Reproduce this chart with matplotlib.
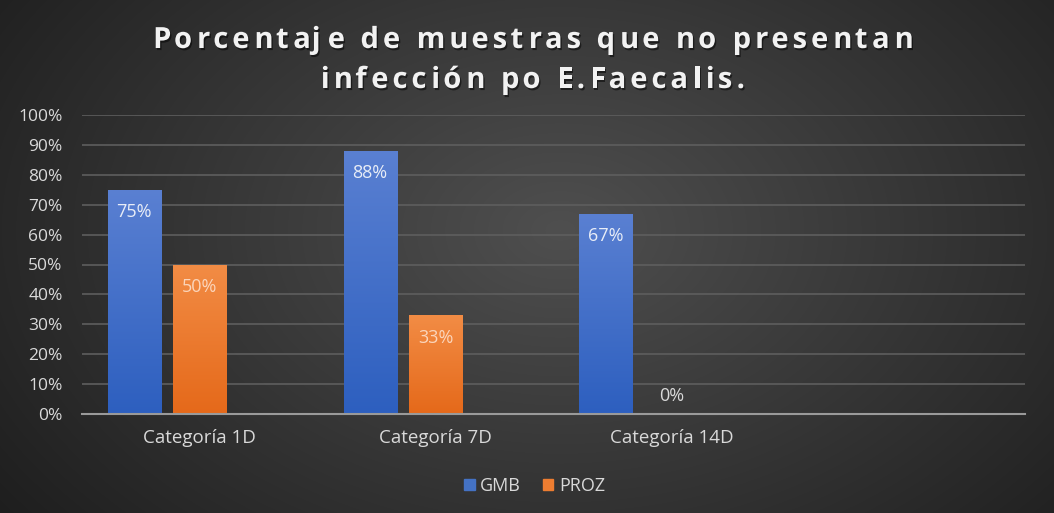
import numpy as np
import matplotlib
matplotlib.use("Agg")
import matplotlib.pyplot as plt
import matplotlib.patheffects as pe
from matplotlib.colors import LinearSegmentedColormap
from matplotlib.font_manager import FontProperties, findfont
from matplotlib.ft2font import FT2Font

# chart data
categories = ["Categoría 1D", "Categoría 7D", "Categoría 14D", ""]
gmb = [0.75, 0.88, 0.67, None]
proz = [0.50, 0.33, 0.00, None]
labels_gmb = ["75%", "88%", "67%", ""]
labels_proz = ["50%", "33%", "0%", ""]
series_names = ["GMB", "PROZ"]
title_lines = ["Porcentaje de muestras que no presentan", "infección po E.Faecalis."]
yticks = np.arange(0, 1.01, 0.1)

plt.rcParams["font.family"] = ["Open Sans", "DejaVu Sans"]

W, H = 1054, 513
fig = plt.figure(figsize=(W / 100, H / 100), dpi=100)

# radial gradient background
bg = fig.add_axes([0, 0, 1, 1], zorder=-10)
yy, xx = np.mgrid[0:H, 0:W]
r = np.sqrt(((xx - 560) / 620.0) ** 2 + ((yy - 230) / 420.0) ** 2)
shade = np.clip(0.31 - 0.17 * r, 0.12, 0.31)
bg.imshow(np.dstack([shade] * 3), aspect="auto", extent=[0, 1, 0, 1])
bg.axis("off")

ax = fig.add_axes([82 / W, 99 / H, 943 / W, 299 / H])
ax.set_facecolor("none")

x = np.arange(len(categories))
w = 0.225
off = 0.278

blue_cm = LinearSegmentedColormap.from_list("b", ["#2d5fbf", "#5a80d2"])
orange_cm = LinearSegmentedColormap.from_list("o", ["#e5691a", "#f28c45"])
grad = np.linspace(0, 1, 256).reshape(-1, 1)


def draw_bars(vals, dx, cmap, base, labs, lab_color):
    for i, v in enumerate(vals):
        if v is None:
            continue
        xc = x[i] + dx
        bar = ax.bar(xc, v, width=w, color=base, zorder=2)[0]
        if v > 0:
            im = ax.imshow(grad, cmap=cmap, origin="lower", aspect="auto",
                           extent=[xc - w / 2, xc + w / 2, 0, v], zorder=3)
            im.set_clip_path(bar)
            ax.text(xc, v - 0.075, labs[i], ha="center", va="center",
                    color=lab_color, fontsize=13, zorder=4)
        else:
            ax.text(xc, v + 0.06, labs[i], ha="center", va="center",
                    color="#d9d9d9", fontsize=13, zorder=4)


draw_bars(gmb, -off, blue_cm, "#4472c4", labels_gmb, "#e8edf7")
draw_bars(proz, 0, orange_cm, "#ed7d31", labels_proz, "#fbd5bb")
ax.set_xlim(-0.5, len(categories) - 0.5)
ax.set_ylim(0, 1)

ax.set_yticks(yticks)
ax.set_yticklabels([f"{int(round(t * 100))}%" for t in yticks])
ax.set_xticks(x)
ax.set_xticklabels(categories)
ax.tick_params(axis="y", length=0, pad=14, colors="#d9d9d9", labelsize=12.5)
ax.tick_params(axis="x", length=0, pad=11, colors="#d9d9d9", labelsize=13.5)
ax.grid(axis="y", color="#5e5e5e", linewidth=1.2, zorder=0)
ax.set_axisbelow(True)
for s in ["top", "right", "left"]:
    ax.spines[s].set_visible(False)
ax.spines["bottom"].set_color("#9a9a9a")
ax.spines["bottom"].set_linewidth(1.5)
ax.spines["bottom"].set_zorder(5)

# title with wide letter spacing, placed glyph by glyph
tsize = 21
tprop = FontProperties(family="Open Sans", weight="bold", size=tsize)
ft = FT2Font(findfont(tprop))
ft.set_size(tsize, 100)
spacing = 4.0
shadow = [pe.withSimplePatchShadow(offset=(1, -1.5), shadow_rgbFace="black", alpha=0.5)]


def spaced_line(s, xc, baseline):
    glyphs = [ft.load_char(ord(c)) for c in s]
    advs = [g.linearHoriAdvance / 65536 for g in glyphs]
    total = sum(advs) + spacing * (len(s) - 1)
    xp = xc - total / 2
    for c, g, a in zip(s, glyphs, advs):
        if c != " ":
            fig.text((xp + g.horiBearingX / 64) / W, 1 - baseline / H, c,
                     ha="left", va="baseline", color="#f2f2f2",
                     fontproperties=tprop, path_effects=shadow)
        xp += a + spacing


spaced_line(title_lines[0], 531, 48)
spaced_line(title_lines[1], 531, 88)

handles = [plt.Rectangle((0, 0), 1, 1, color="#4472c4"),
           plt.Rectangle((0, 0), 1, 1, color="#ed7d31")]
fig.legend(handles, series_names, loc="center", bbox_to_anchor=(0.507, 0.053),
           ncol=2, frameon=False, labelcolor="#d9d9d9", fontsize=13,
           handlelength=0.6, handleheight=0.6, handletextpad=0.3,
           columnspacing=1.2)

fig.savefig("out.png", dpi=100)
